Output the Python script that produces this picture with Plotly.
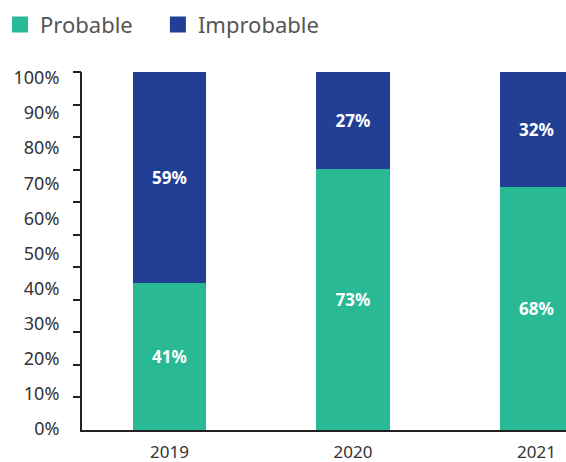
import plotly.graph_objects as go

# Survey results by year (percent of respondents)
years = ["2019", "2020", "2021"]
probable = [41, 73, 68]
improbable = [59, 27, 32]

series_names = ["Probable", "Improbable"]
pct_ticks = [0, 10, 20, 30, 40, 50, 60, 70, 80, 90, 100]
pct_labels = [f"{v}%" for v in pct_ticks]

GREEN = "#29BA95"
BLUE = "#223F96"
AXIS = "#222222"
FONT = "Noto Sans, Lato, sans-serif"

fig = go.Figure()

for name, vals, color in [(series_names[0], probable, GREEN),
                          (series_names[1], improbable, BLUE)]:
    fig.add_trace(go.Bar(
        x=years, y=vals, name=name, width=0.4,
        marker=dict(color=color, line=dict(width=0)),
        text=[f"{v}%" for v in vals],
        textposition="inside", insidetextanchor="middle",
        textfont=dict(family=FONT, size=17, color="white", weight="bold"),
        showlegend=False, hoverinfo="skip",
    ))

# Legend keys, one legend box per series
for name, color, lg in [(series_names[0], GREEN, "legend"),
                        (series_names[1], BLUE, "legend2")]:
    fig.add_trace(go.Scatter(
        x=[None], y=[None], mode="markers", name=name, legend=lg,
        marker=dict(symbol="square", size=16, color=color),
    ))

legend_style = dict(
    orientation="h", xref="container", yref="container",
    y=0.992, xanchor="left", yanchor="top",
    font=dict(family=FONT, size=22, color="#555555"),
    itemclick=False, itemdoubleclick=False,
    bgcolor="rgba(0,0,0,0)",
)

fig.update_layout(
    width=566, height=462,
    margin=dict(l=82, r=0, t=72, b=32),
    paper_bgcolor="white", plot_bgcolor="white",
    barmode="stack",
    font=dict(family=FONT, color="#333333"),
    legend=dict(x=0.0, **legend_style),
    legend2=dict(x=0.279, **legend_style),
    xaxis=dict(
        type="category", range=[-0.477, 2.161],
        showline=True, linecolor=AXIS, linewidth=2,
        ticks="outside", ticklen=6, tickcolor="rgba(0,0,0,0)",
        tickfont=dict(family=FONT, size=17, color="#333333"),
        showgrid=False, zeroline=False, fixedrange=True,
    ),
    yaxis=dict(
        range=[0, 100], showline=True, linecolor=AXIS, linewidth=2,
        showticklabels=False, ticks="", showgrid=False, zeroline=False,
        fixedrange=True,
    ),
    yaxis2=dict(
        overlaying="y", side="left", anchor="x",
        range=[-0.28, 101.7], tickvals=pct_ticks, ticktext=pct_labels,
        ticks="outside", ticklen=18, tickcolor="rgba(0,0,0,0)",
        tickfont=dict(family=FONT, size=18, color="#333333"),
        showline=False, showgrid=False, zeroline=False, fixedrange=True,
    ),
    yaxis3=dict(
        overlaying="y", side="left", anchor="x",
        range=[0, 11], tickvals=list(range(1, 12)),
        ticks="outside", ticklen=8, tickwidth=2, tickcolor=AXIS,
        showticklabels=False, showline=False, showgrid=False,
        zeroline=False, fixedrange=True,
    ),
)

# attach empty traces to the overlay axes so their ticks render
fig.add_trace(go.Scatter(x=[None], y=[None], yaxis="y2", showlegend=False, hoverinfo="skip"))
fig.add_trace(go.Scatter(x=[None], y=[None], yaxis="y3", showlegend=False, hoverinfo="skip"))

fig.write_html("out.html", config={"displayModeBar": False})
